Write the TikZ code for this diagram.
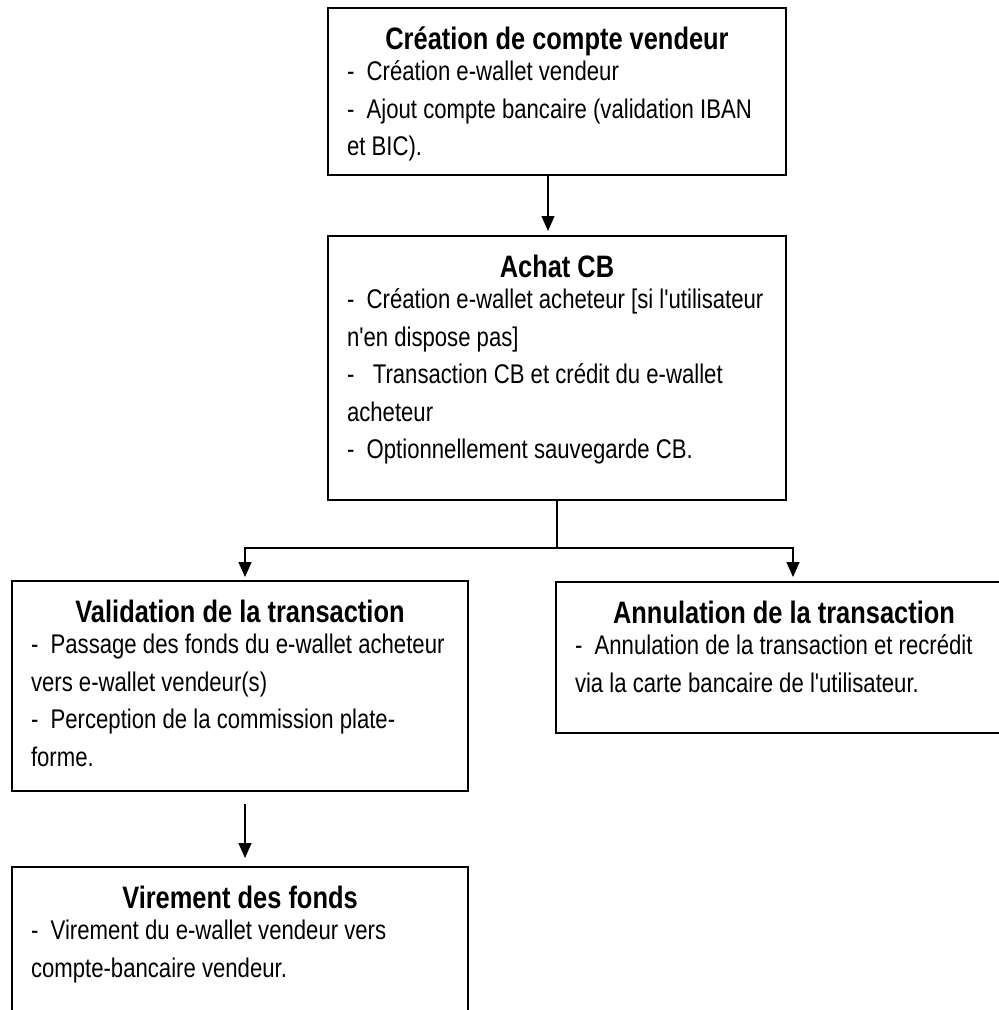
\documentclass[tikz,border=0pt]{standalone}
\usepackage{fontspec}
\setmainfont{Liberation Sans}[FakeStretch=0.82, Ligatures=TeXOff]
\usetikzlibrary{arrows.meta,positioning}

\newcommand{\titre}[1]{\makebox[\linewidth]{\rule{0pt}{27pt}\bfseries\fontsize{31}{31}\selectfont #1}\\[-6pt]}

\begin{document}
\begin{tikzpicture}[x=1pt, y=-1pt,
		etape/.style={draw, line width=2pt, anchor=north west, inner xsep=19pt, inner ysep=14pt, font=\fontsize{27}{37.5}\selectfont},
		fleche/.style={line width=1.5pt, -{Triangle[width=13pt,length=15pt]}}]
		\useasboundingbox (0,0) rectangle (999,1010);
		\clip (0,0) rectangle (999,1010);
		\node [etape] (crea) at (327,7) {\parbox[t][139pt][t]{420pt}{\raggedright\titre{Création de compte vendeur}-~~Création e-wallet vendeur\\-~~Ajout compte bancaire (validation IBAN\\et BIC).}};
		\node [etape] (achat) at (327,235) {\parbox[t][236pt][t]{420pt}{\raggedright\titre{Achat CB}-~~Création e-wallet acheteur [si l'utilisateur\\n'en dispose pas]\\-~~~Transaction CB et crédit du e-wallet\\acheteur\\-~~Optionnellement sauvegarde CB.}};
		\node [etape] (valid) at (11,580) {\parbox[t][182pt][t]{418pt}{\raggedright\titre{Validation de la transaction}-~~Passage des fonds du e-wallet acheteur\\vers e-wallet vendeur(s)\\-~~Perception de la commission plate-\\forme.}};
		\node [etape] (annul) at (555,581) {\parbox[t][123pt][t]{418pt}{\raggedright\titre{Annulation de la transaction}-~~Annulation de la transaction et recrédit\\via la carte bancaire de l'utilisateur.}};
		\node [etape] (virem) at (11,866) {\parbox[t][200pt][t]{418pt}{\raggedright\titre{Virement des fonds}-~~Virement du e-wallet vendeur vers\\compte-bancaire vendeur.}};
		\coordinate (fourche) at ([yshift=-47pt]achat.south);
		\draw [fleche, shorten >=4pt] ([xshift=-9pt]crea.south) -- ([xshift=-9pt]achat.north);
		\draw [line width=1.5pt] (achat.south) -- (fourche);
		\draw [fleche, shorten >=3pt] (fourche) -| ([xshift=5pt]valid.north);
		\draw [fleche, shorten >=4pt] (fourche) -| ([xshift=9pt]annul.north);
		\draw [fleche, shorten <=12pt, shorten >=8pt] ([xshift=5pt]valid.south) -- ([xshift=5pt]virem.north);
	\end{tikzpicture}
\end{document}
